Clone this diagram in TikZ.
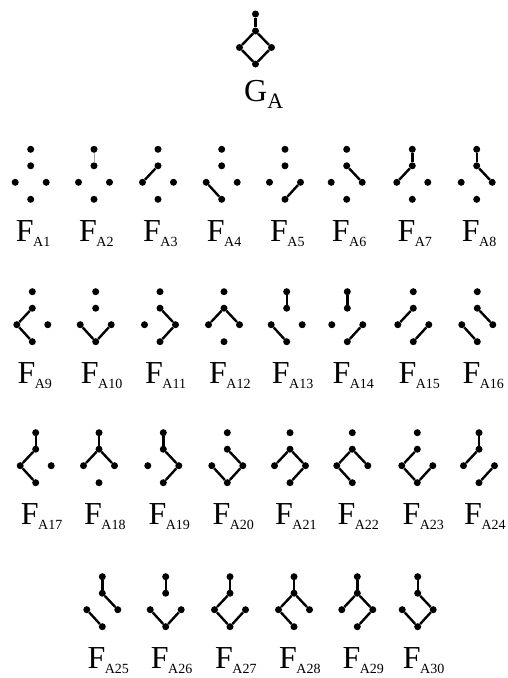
\documentclass[tikz,border=0pt]{standalone}
\usepackage{fontspec}
\setmainfont{Liberation Serif}
\tikzset{
  vtx/.style={circle,fill=black,inner sep=0pt,minimum size=7pt},
  edge/.style={line width=2.4pt,black},
  faint/.style={line width=1pt,black!35},
  lbl/.style={inner sep=0pt,anchor=base west}
}
\newcommand\FL[1]{{\fontsize{32}{34}\selectfont F}\kern-0.5pt\raisebox{-5pt}{\fontsize{14}{16}\selectfont A#1}}
% #1 id, #2 x, #3 y of top vertex, #4 label number
\newcommand\fgr[4]{%
  \node[vtx] (#1t) at (#2,#3) {};
  \node[vtx] (#1u) at (#2,#3+16.5) {};
  \node[vtx] (#1l) at (#2-15.5,#3+33) {};
  \node[vtx] (#1r) at (#2+15.5,#3+33) {};
  \node[vtx] (#1b) at (#2,#3+50) {};
  \node[lbl] (#1lab) at (#2-15,#3+92.2) {\FL{#4}};
}
\newcommand\edg[2]{\foreach \p/\q in {#2} {\draw[edge] (#1\p) -- (#1\q);}}
\begin{document}
\begin{tikzpicture}[x=1pt,y=-1pt]
\useasboundingbox (0,0) rectangle (507,678);
% G_A
\node[vtx] (gt) at (255.5,14) {};
\node[vtx] (gu) at (255.5,31) {};
\node[vtx] (gl) at (239.5,47.5) {};
\node[vtx] (gr) at (271.5,47.5) {};
\node[vtx] (gb) at (255.5,64) {};
\draw[edge] (gt) -- (gu);
\draw[edge] (gu) -- (gl) -- (gb) -- (gr) -- (gu);
\node[lbl] (glab) at (244,101) {{\fontsize{32}{34}\selectfont G}\raisebox{-7pt}{\fontsize{22}{24}\selectfont A}};
% row 1
\fgr{a}{30.7}{149.3}{1}
\fgr{b}{94}{149.3}{2}
\fgr{c}{158}{149.3}{3}
\fgr{d}{221.7}{149.3}{4}
\fgr{e}{285}{149.3}{5}
\fgr{f}{346.7}{149.3}{6}
\fgr{g}{412.3}{149.3}{7}
\fgr{h}{476.7}{149.3}{8}
\draw[faint] (bt) -- (bu);
\edg{c}{u/l}
\edg{d}{l/b}
\edg{e}{r/b}
\edg{f}{u/r}
\edg{g}{t/u,u/l}
\edg{h}{t/u,u/r}
% row 2
\fgr{i}{32.3}{291.7}{9}
\fgr{j}{95.7}{291.7}{10}
\fgr{k}{160}{291.7}{11}
\fgr{m}{224}{291.7}{12}
\fgr{n}{286.7}{291.7}{13}
\fgr{o}{347.3}{291.7}{14}
\fgr{p}{413.3}{291.7}{15}
\fgr{q}{477.3}{291.7}{16}
\edg{i}{u/l,l/b}
\edg{j}{l/b,r/b}
\edg{k}{u/r,r/b}
\edg{m}{u/l,u/r}
\edg{n}{t/u,l/b}
\edg{o}{t/u,r/b}
\edg{p}{u/l,r/b}
\edg{q}{u/r,l/b}
% row 3
\fgr{ra}{35.7}{432.7}{17}
\fgr{rb}{99}{432.7}{18}
\fgr{rc}{163.3}{432.7}{19}
\fgr{rd}{227.3}{432.7}{20}
\fgr{re}{290}{432.7}{21}
\fgr{rf}{352.3}{432.7}{22}
\fgr{rg}{417.3}{432.7}{23}
\fgr{rh}{479}{432.7}{24}
\edg{ra}{t/u,u/l,l/b}
\edg{rb}{t/u,u/l,u/r}
\edg{rc}{t/u,u/r,r/b}
\edg{rd}{u/r,l/b,r/b}
\edg{re}{u/l,u/r,r/b}
\edg{rf}{u/l,u/r,l/b}
\edg{rg}{u/l,l/b,r/b}
\edg{rh}{t/u,u/l,r/b}
% row 4
\fgr{sa}{102.3}{576.7}{25}
\fgr{sb}{165.7}{576.7}{26}
\fgr{sc}{230}{576.7}{27}
\fgr{sd}{294}{576.7}{28}
\fgr{se}{357.3}{576.7}{29}
\fgr{sf}{417.7}{576.7}{30}
\edg{sa}{t/u,u/r,l/b}
\edg{sb}{t/u,l/b,r/b}
\edg{sc}{t/u,u/l,l/b,r/b}
\edg{sd}{t/u,u/l,u/r,l/b}
\edg{se}{t/u,u/l,u/r,r/b}
\edg{sf}{t/u,u/r,l/b,r/b}
\end{tikzpicture}
\end{document}
